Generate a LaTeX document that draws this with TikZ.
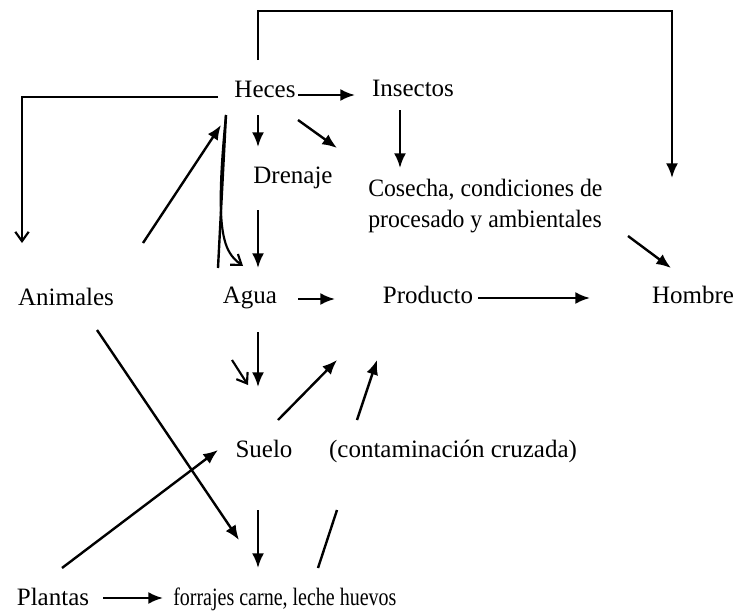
\documentclass[tikz,border=0pt]{standalone}
\usepackage{fontspec}
\setmainfont{Liberation Serif}
\usetikzlibrary{arrows.meta, calc}

\begin{document}
\begin{tikzpicture}[x=0.75pt, y=-0.75pt,
  lbl/.style={inner sep=0pt, anchor=base, font=\fontsize{18.75}{23.25}\selectfont},
  arr/.style={line width=1.8pt, -{Latex[length=11pt,width=9pt]}},
  barb/.style={line width=1.6pt, -{Straight Barb[length=7pt,width=10pt]}},
  plain/.style={line width=1.8pt}]
\useasboundingbox (0,0) rectangle (740,614);

\node[lbl] (heces) at (265,97) {Heces};
\node[lbl] (insectos) at (413,96) {Insectos};
\node[lbl] (drenaje) at (293,183) {Drenaje};
\node[lbl, anchor=west, align=left] (cosecha) at (368,206) {\scalebox{0.95}[1]{Cosecha, condiciones de}\\\scalebox{0.95}[1]{procesado y ambientales}};
\node[lbl] (animales) at (66,305) {Animales};
\node[lbl] (agua) at (250,303) {Agua};
\node[lbl] (producto) at (428,303) {Producto};
\node[lbl] (hombre) at (693,303) {Hombre};
\node[lbl] (suelo) at (264,457) {Suelo};
\node[lbl] (cruzada) at (453,457) {(contaminación cruzada)};
\node[lbl] (plantas) at (53,605) {Plantas};
\node[lbl, anchor=base west] (forrajes) at (173,605) {\scalebox{0.8}[1]{forrajes carne, leche huevos}};

% free ends of the connectors
\coordinate (hi1) at (298,95);  \coordinate (hi2) at (355,95);
\coordinate (ha1) at (218,97);  \coordinate (ha2) at (22,243);
\coordinate (hh1) at (258,60);  \coordinate (hh2) at (672,178);
\coordinate (hd1) at (258,115); \coordinate (hd2) at (258,147);
\coordinate (hc1) at (298,120); \coordinate (hc2) at (337,148);
\coordinate (ic1) at (400,110); \coordinate (ic2) at (400,168);
\coordinate (dw1) at (258,210); \coordinate (dw2) at (258,268);
\coordinate (hw1) at (226,115); \coordinate (hw2) at (218,268);
\coordinate (hw3) at (243,266);
\coordinate (ah1) at (143,243); \coordinate (ah2) at (221,125);
\coordinate (wp1) at (298,299); \coordinate (wp2) at (335,299);
\coordinate (pm1) at (478,298); \coordinate (pm2) at (590,298);
\coordinate (cm1) at (628,236); \coordinate (cm2) at (671,268);
\coordinate (ws1) at (258,332); \coordinate (ws2) at (258,387);
\coordinate (ws3) at (232,360); \coordinate (ws4) at (248,385);
\coordinate (sp1) at (278,420); \coordinate (sp2) at (337,360);
\coordinate (xp1) at (357,420); \coordinate (xp2) at (377,360);
\coordinate (ps1) at (62,568);  \coordinate (ps2) at (218,450);
\coordinate (af1) at (97,330);  \coordinate (af2) at (239,540);
\coordinate (sf1) at (258,510); \coordinate (sf2) at (258,568);
\coordinate (fx1) at (318,568); \coordinate (fx2) at (337,510);
\coordinate (pf1) at (103,598); \coordinate (pf2) at (163,598);

\draw[arr] (hi1) -- (hi2);
\draw[barb] (ha1) -| (ha2);
\draw[arr] (hh1) |- (672,11) -- (hh2);
\draw[arr] (hd1) -- (hd2);
\draw[arr] (hc1) -- (hc2);
\draw[arr] (ic1) -- (ic2);
\draw[arr] (dw1) -- (dw2);
\draw[plain] (hw1) -- (hw2);
\draw[barb] (hw1) .. controls (214,235) and (224,252) .. (hw3);
\draw[arr] (ah1) -- (ah2);
\draw[arr] (wp1) -- (wp2);
\draw[arr] (pm1) -- (pm2);
\draw[arr] (cm1) -- (cm2);
\draw[arr] (ws1) -- (ws2);
\draw[barb] (ws3) -- (ws4);
\draw[arr] (sp1) -- (sp2);
\draw[arr] (xp1) -- (xp2);
\draw[arr] (ps1) -- (ps2);
\draw[arr] (af1) -- (af2);
\draw[arr] (sf1) -- (sf2);
\draw[plain] (fx1) -- (fx2);
\draw[arr] (pf1) -- (pf2);
\end{tikzpicture}
\end{document}
